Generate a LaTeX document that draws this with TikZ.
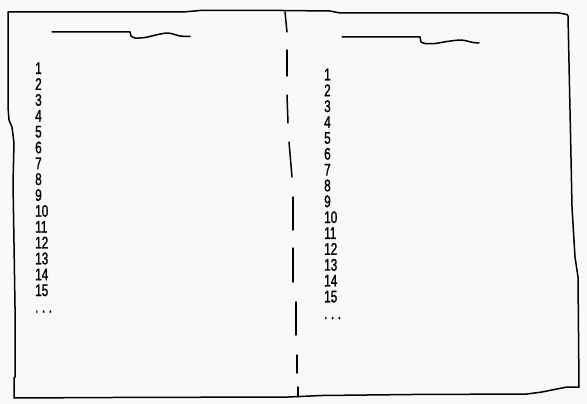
\documentclass[tikz,border=0pt]{standalone}
\usepackage{fontspec}
\newfontfamily\listfont[FakeStretch = 0.7, FakeBold = 1.2]{Liberation Sans}
\definecolor{paper}{RGB}{249,249,249}
\begin{document}
\begin{tikzpicture}[x = 1pt, y = -1pt, sketch/.style = {line width = 1.5pt, line cap = round, line join = round},
		num/.style = {anchor = base west, inner sep = 0pt, font = \listfont\fontsize{16.8}{16.8}\selectfont}]
	\fill[paper] (0, 0) rectangle (587, 404);
	\useasboundingbox (0, 0) rectangle (587, 404);
	% outer sheet
	\draw[sketch] (8, 12) -- (183, 12) -- (200, 10.5) -- (283, 10.5) -- (330, 11) -- (340, 13) -- (559, 13) -- (567, 14.5)
		-- (568, 16) -- (570, 110) -- (571, 157) -- (572, 207) -- (575, 257) -- (578, 277) -- (579, 387)
		-- (567, 387) -- (552, 390) -- (542, 392) -- (527, 394) -- (412, 394.5) -- (322, 395.5) -- (288, 397) -- (112, 397.5) -- (14, 398)
		-- (14, 378) -- (15, 377) -- (15, 307) -- (14, 243) -- (13, 183) -- (14, 143) -- (12, 127) -- (9, 120) -- (8, 107) -- cycle;
	% fold line
	\foreach \xa/\ya/\xb/\yb in {285/12/287/32, 287/50/287/76, 287/95/288/123, 289/142/292/177, 293/197/293/230,
			293/248/293/282, 296/302/296/335, 297/355/297/373, 298/387/298/397}
		\draw[sketch] (\xa, \ya) -- (\xb, \yb);
	% titles
	\draw[sketch] (52, 32) -- (130, 32) -- (131, 36) plot[smooth] coordinates {(131, 36) (135, 38) (145, 37.5) (158, 34.5) (167, 33) (173, 34) (180, 36) (190, 36.5)};
	\draw[sketch] (342, 37) -- (420, 37) -- (421, 42) plot[smooth] coordinates {(421, 42) (425, 43.5) (435, 43.5) (447, 41.5) (460, 40) (467, 41) (473, 42.5) (479, 43)};
	% numbered lines
	\foreach \n in {1, ..., 15} {
		\node[num] (l\n) at (35, 74 + 15.86*\n - 15.86) {\n};
		\node[num] (r\n) at (324, 80.3 + 15.86*\n - 15.86) {\n};
	}
	\node[num] (ldots) at (35, 312.5) {.\hspace{3.5pt}.\hspace{3.5pt}.};
	\node[num] (rdots) at (324, 319) {.\hspace{3.5pt}.\hspace{3.5pt}.};
\end{tikzpicture}
\end{document}
